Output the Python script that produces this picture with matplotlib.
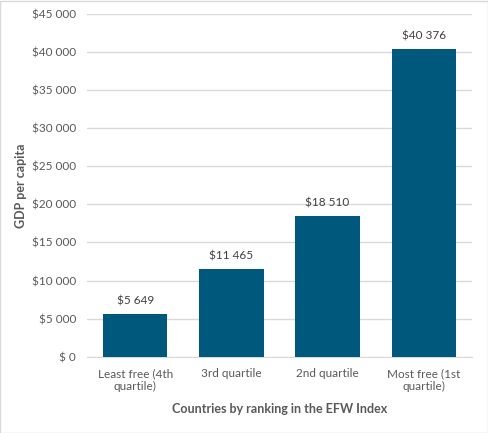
import matplotlib.pyplot as plt
import numpy as np

categories = ['Least free (4th\nquartile)', '3rd quartile', '2nd quartile', 'Most free (1st\nquartile)']
gdp = [5649, 11465, 18510, 40376]
yticks = [0, 5000, 10000, 15000, 20000, 25000, 30000, 35000, 40000, 45000]

plt.rcParams['font.family'] = ['Lato', 'DejaVu Sans']

def money(v):
    return '$' + format(int(v), ',').replace(',', ' ') if v else '$ 0'

fig = plt.figure(figsize=(4.89, 4.33), dpi=100)
ax = fig.add_axes([0.178, 0.176, 0.787, 0.792])

x = np.arange(len(categories))
bars = ax.bar(x, gdp, width=0.67, color='#00587C', zorder=3)
for b, v in zip(bars, gdp):
    ax.text(b.get_x() + b.get_width() / 2, v + 1000, money(v),
            ha='center', va='bottom', fontsize=8.5, color='#404040')

ax.set_ylim(0, 45000)
ax.set_xlim(-0.5, 3.5)
ax.set_yticks(yticks)
ax.set_yticklabels([money(t) for t in yticks])
ax.set_xticks(x)
ax.set_xticklabels(categories)
ax.tick_params(axis='both', length=0, labelsize=8.5, colors='#595959')
ax.tick_params(axis='y', pad=8)
ax.tick_params(axis='x', pad=8)
ax.grid(axis='y', color='#D9D9D9', linewidth=1, zorder=0)
for s in ['top', 'right', 'left']:
    ax.spines[s].set_visible(False)
ax.spines['bottom'].set_color('#D9D9D9')

ax.set_ylabel('GDP per capita', fontsize=9, fontweight='bold', color='#595959')
ax.yaxis.set_label_coords(-0.155, 0.5)
ax.set_xlabel('Countries by ranking in the EFW Index', fontsize=9, fontweight='bold', color='#595959', labelpad=8)

fig.patches.append(plt.Rectangle((0.001, 0.001), 0.997, 0.997, transform=fig.transFigure,
                                 fill=False, edgecolor='#D9D9D9', linewidth=1))

fig.savefig('out.png', dpi=100)
